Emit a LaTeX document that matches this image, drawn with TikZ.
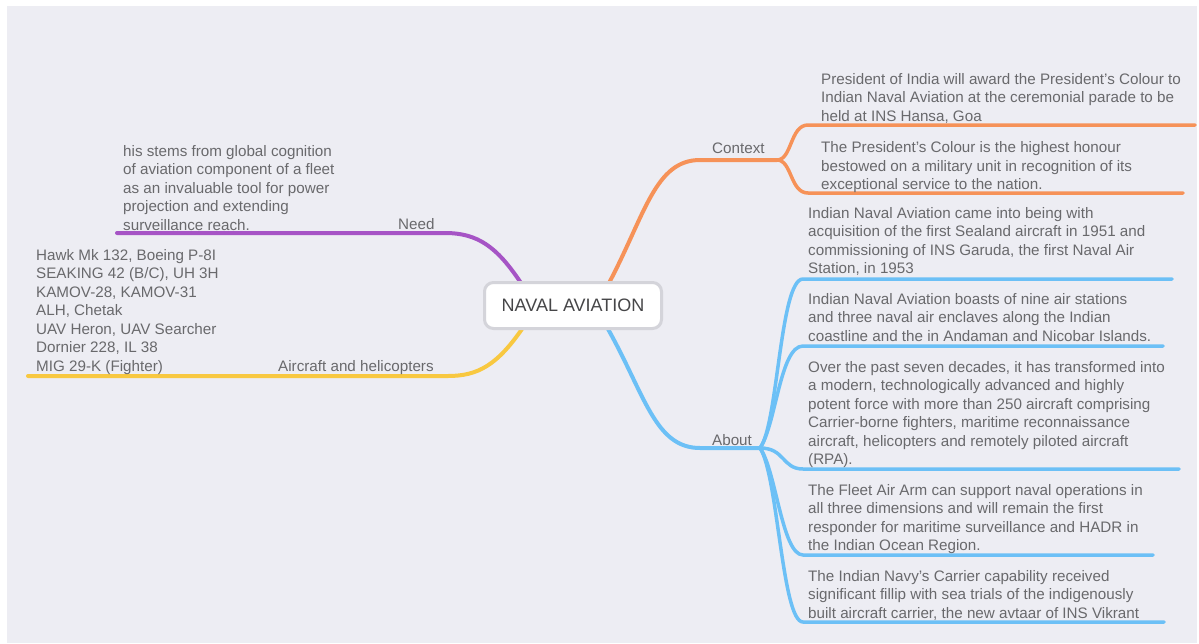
\documentclass[tikz,border=0pt]{standalone}
\usepackage{fontspec}
\setmainfont{Liberation Sans}
\definecolor{bgc}{RGB}{237,237,243}
\definecolor{txtc}{RGB}{105,105,108}
\definecolor{rootc}{RGB}{70,70,72}
\definecolor{rootb}{RGB}{212,212,218}
\definecolor{orangec}{RGB}{246,146,88}
\definecolor{purplec}{RGB}{166,84,197}
\definecolor{yellowc}{RGB}{248,200,64}
\definecolor{bluec}{RGB}{108,192,246}
\begin{document}
\begin{tikzpicture}[x=1pt,y=-1pt,
  txt/.style={anchor=base west, align=left, inner sep=0pt, text=txtc,
    font=\fontsize{15.2}{18.5}\selectfont},
  branch/.style={line width=4pt, line cap=round},
  leaf/.style={line width=3.5pt, line cap=round},
  rootbox/.style={draw=rootb, line width=3pt, fill=white, rounded corners=9pt,
    minimum width=177pt, minimum height=46pt, text=rootc,
    font=\fontsize{18}{21}\selectfont}]
\useasboundingbox (0,0) rectangle (1199,643);
\fill[white] (0,0) rectangle (1199,643);
\fill[bgc] (7,6) rectangle (1197,643);

% coordinates
\coordinate (oS) at (609,283);
\coordinate (oL) at (700,160);
\coordinate (oF) at (777,160);
\coordinate (o1a) at (808,125);
\coordinate (o1b) at (1195,125);
\coordinate (o2a) at (808,193);
\coordinate (o2b) at (1183,193);

\coordinate (bS) at (608,329);
\coordinate (bL) at (700,448);
\coordinate (bF) at (760,448);
\coordinate (b1a) at (803,279);
\coordinate (b1b) at (1172,279);
\coordinate (b2a) at (803,346);
\coordinate (b2b) at (1163,346);
\coordinate (b3a) at (803,469);
\coordinate (b3b) at (1179,469);
\coordinate (b4a) at (803,555);
\coordinate (b4b) at (1153,555);
\coordinate (b5a) at (803,622);
\coordinate (b5b) at (1164,622);

\coordinate (pS) at (521,283);
\coordinate (pL) at (445,233);
\coordinate (pE) at (117,233);

\coordinate (yS) at (522,329);
\coordinate (yL) at (448,376);
\coordinate (yE) at (28,376);

% branches
\draw[branch, orangec] (oS) .. controls (645,215) and (655,160) .. (oL) -- (oF);
\draw[leaf, orangec] (oF) .. controls (792,160) and (790,125) .. (o1a) -- (o1b);
\draw[leaf, orangec] (oF) .. controls (792,160) and (790,193) .. (o2a) -- (o2b);

\draw[branch, bluec] (bS) .. controls (645,395) and (655,448) .. (bL) -- (bF);
\draw[leaf, bluec] (bF) .. controls (778,425) and (780,279) .. (b1a) -- (b1b);
\draw[leaf, bluec] (bF) .. controls (776,425) and (780,346) .. (b2a) -- (b2b);
\draw[leaf, bluec] (bF) .. controls (785,448) and (782,469) .. (b3a) -- (b3b);
\draw[leaf, bluec] (bF) .. controls (776,470) and (782,555) .. (b4a) -- (b4b);
\draw[leaf, bluec] (bF) .. controls (778,475) and (782,622) .. (b5a) -- (b5b);

\draw[branch, purplec] (pS) .. controls (497,247) and (478,233) .. (pL) -- (pE);
\draw[branch, yellowc] (yS) .. controls (497,365) and (478,376) .. (yL) -- (yE);

% root
\node[rootbox] (root) at (573,305.5) {NAVAL AVIATION};

% labels
\node[txt] (ctx) at (712,153) {Context};
\node[txt] (abt) at (712,445) {About};
\node[txt] (need) at (398,229) {Need};
\node[txt] (air) at (278,371) {Aircraft and helicopters};

% texts (anchor = baseline of last line)
\node[txt] (c1) at (821,121) {President of India will award the President’s Colour to\\Indian Naval Aviation at the ceremonial parade to be\\held at INS Hansa, Goa};
\node[txt] (c2) at (821,189.5) {The President’s Colour is the highest honour\\bestowed on a military unit in recognition of its\\exceptional service to the nation.};
\node[txt] (a1) at (808,273.5) {Indian Naval Aviation came into being with\\acquisition of the first Sealand aircraft in 1951 and\\commissioning of INS Garuda, the first Naval Air\\Station, in 1953};
\node[txt] (a2) at (808,341) {Indian Naval Aviation boasts of nine air stations\\and three naval air enclaves along the Indian\\coastline and the in Andaman and Nicobar Islands.};
\node[txt] (a3) at (808,464.5) {Over the past seven decades, it has transformed into\\a modern, technologically advanced and highly\\potent force with more than 250 aircraft comprising\\Carrier-borne fighters, maritime reconnaissance\\aircraft, helicopters and remotely piloted aircraft\\(RPA).};
\node[txt] (a4) at (808,550.5) {The Fleet Air Arm can support naval operations in\\all three dimensions and will remain the first\\responder for maritime surveillance and HADR in\\the Indian Ocean Region.};
\node[txt] (a5) at (808,618) {The Indian Navy’s Carrier capability received\\significant fillip with sea trials of the indigenously\\built aircraft carrier, the new avtaar of INS Vikrant};
\node[txt] (n1) at (123,230) {his stems from global cognition\\of aviation component of a fleet\\as an invaluable tool for power\\projection and extending\\surveillance reach.};
\node[txt] (h1) at (36,371) {Hawk Mk 132, Boeing P-8I\\SEAKING 42 (B/C), UH 3H\\KAMOV-28, KAMOV-31\\ALH, Chetak\\UAV Heron, UAV Searcher\\Dornier 228, IL 38\\MIG 29-K (Fighter)};
\end{tikzpicture}
\end{document}
